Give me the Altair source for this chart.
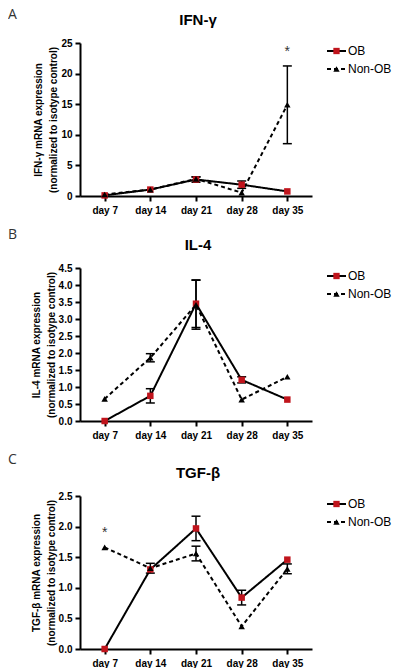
import altair as alt
import pandas as pd

days = ["day 7", "day 14", "day 21", "day 28", "day 35"]
series_names = ["OB", "Non-OB"]
series_colors = ["#c0141c", "black"]
series_shapes = ["square", "triangle-up"]

# Panel A: IFN-gamma
ifn_ob = [0.1, 1.05, 2.7, 1.85, 0.75]
ifn_ob_err = [0.0, 0.0, 0.45, 0.6, 0.0]
ifn_non = [0.25, 1.05, 2.8, 0.55, 14.9]
ifn_non_err = [0.0, 0.0, 0.3, 0.0, 6.35]

# Panel B: IL-4
il4_ob = [0.0, 0.74, 3.45, 1.21, 0.63]
il4_ob_err = [0.0, 0.21, 0.7, 0.09, 0.0]
il4_non = [0.65, 1.86, 3.42, 0.63, 1.3]
il4_non_err = [0.0, 0.12, 0.72, 0.0, 0.0]

# Panel C: TGF-beta
tgf_ob = [0.0, 1.3, 1.97, 0.84, 1.46]
tgf_ob_err = [0.0, 0.0, 0.2, 0.12, 0.0]
tgf_non = [1.66, 1.32, 1.56, 0.37, 1.31]
tgf_non_err = [0.0, 0.08, 0.12, 0.0, 0.08]

FONT = "Liberation Sans"
W, H = 232, 153


def panel(letter, letter_y, title, ytitle, ob, ob_err, non, non_err, ymax, yvals, fmt, star_day, star_y):
    rows = []
    for s, vals, errs in [("OB", ob, ob_err), ("Non-OB", non, non_err)]:
        for d, v, e in zip(days, vals, errs):
            rows.append({"day": d, "series": s, "value": v, "err": e,
                         "lo": max(v - e, 0), "hi": v + e})
    df = pd.DataFrame(rows)
    base = alt.Chart(df)

    x = alt.X("day:N", sort=days,
              scale=alt.Scale(type="point", padding=0.54),
              axis=alt.Axis(title=None, labelAngle=0))

    def ych(field):
        return alt.Y(f"{field}:Q",
                     scale=alt.Scale(domain=[0, ymax], nice=False, zero=True),
                     axis=alt.Axis(values=yvals, format=fmt, title=ytitle))

    dash = alt.StrokeDash("series:N",
                          scale=alt.Scale(domain=series_names, range=[[1, 0], [4, 3]]),
                          legend=None)
    lines = base.mark_line(color="black", strokeWidth=2).encode(
        x=x, y=ych("value"), strokeDash=dash, detail="series:N")

    errs = base.transform_filter("datum.err > 0")
    rules = errs.mark_rule(color="black", strokeWidth=1.5).encode(
        x=x, y=ych("lo"), y2="hi:Q")
    cap_lo = errs.mark_tick(color="black", thickness=1.5, size=9, opacity=1).encode(
        x=x, y=ych("lo"))
    cap_hi = errs.mark_tick(color="black", thickness=1.5, size=9, opacity=1).encode(
        x=x, y=ych("hi"))

    pts = base.mark_point(filled=True, size=42, opacity=1).encode(
        x=x, y=ych("value"),
        shape=alt.Shape("series:N", scale=alt.Scale(domain=series_names, range=series_shapes), legend=None),
        color=alt.Color("series:N", scale=alt.Scale(domain=series_names, range=series_colors), legend=None),
    )

    layers = [lines, rules, cap_lo, cap_hi, pts]

    if star_day is not None:
        star = alt.Chart(pd.DataFrame({"day": [star_day], "value": [star_y], "t": ["*"]})).mark_text(
            font=FONT, fontSize=14, color="#333", baseline="middle").encode(
            x=x, y=ych("value"), text="t:N")
        layers.append(star)

    lab = alt.Chart(pd.DataFrame({"t": [letter]})).mark_text(
        font="Open Sans", fontSize=14, align="left", baseline="middle", color="#333").encode(
        text="t:N", x=alt.value(-72), y=alt.value(letter_y))
    layers.append(lab)

    ttl = alt.Chart(pd.DataFrame({"t": [title]})).mark_text(
        font=FONT, fontSize=15, fontWeight="bold", align="center", baseline="middle", color="black").encode(
        text="t:N", x=alt.value(W / 2 + 2), y=alt.value(-23))
    layers.append(ttl)

    # legend
    leg_y = [8, 26]
    for s, yy, dsh, col, shp in zip(series_names, leg_y, [[1, 0], [4, 3]], series_colors, series_shapes):
        ld = pd.DataFrame({"series": [s]})
        layers.append(alt.Chart(ld).mark_rule(color="black", strokeWidth=2, strokeDash=dsh).encode(
            x=alt.value(247), x2=alt.value(266), y=alt.value(yy)))
        layers.append(alt.Chart(ld).mark_point(filled=True, size=40, opacity=1, color=col, shape=shp).encode(
            x=alt.value(256.5), y=alt.value(yy)))
        layers.append(alt.Chart(ld).mark_text(font=FONT, fontSize=12, align="left", baseline="middle",
                                              color="black").encode(
            x=alt.value(268), y=alt.value(yy), text="series:N"))

    return alt.layer(*layers).properties(width=W, height=H)


pA = panel("A", -28, "IFN-γ", ["IFN-γ mRNA  expression", "(normalized to isotype control)"],
           ifn_ob, ifn_ob_err, ifn_non, ifn_non_err, 25, [0, 5, 10, 15, 20, 25], "d", "day 35", 23.6)
pB = panel("B", -33, "IL-4", ["IL-4 mRNA  expression", "(normalized to isotype control)"],
           il4_ob, il4_ob_err, il4_non, il4_non_err, 4.5,
           [0, 0.5, 1, 1.5, 2, 2.5, 3, 3.5, 4, 4.5], ".1f", None, None)
pC = panel("C", -36, "TGF-β", ["TGF-β mRNA  expression", "(normalized to isotype control)"],
           tgf_ob, tgf_ob_err, tgf_non, tgf_non_err, 2.5,
           [0, 0.5, 1, 1.5, 2, 2.5], ".1f", "day 7", 1.9)

chart = alt.vconcat(pA, pB, pC, spacing=13).configure_view(stroke=None).configure_axis(
    domainColor="black", domainWidth=2, tickColor="black", tickWidth=2, tickSize=5,
    labelFont=FONT, labelFontSize=10, labelFontWeight="bold", labelColor="black",
    titleFont=FONT, titleFontSize=10, titleFontWeight="bold", titleColor="black",
    titleLineHeight=15, grid=False, labelPadding=3,
).configure_axisX(labelPadding=4).configure_axisY(titlePadding=2).properties(
    padding={"left": 0, "top": 0, "right": 0, "bottom": 0}, background="white")

chart.save("out.html", embed_options={"renderer": "svg", "actions": False})
